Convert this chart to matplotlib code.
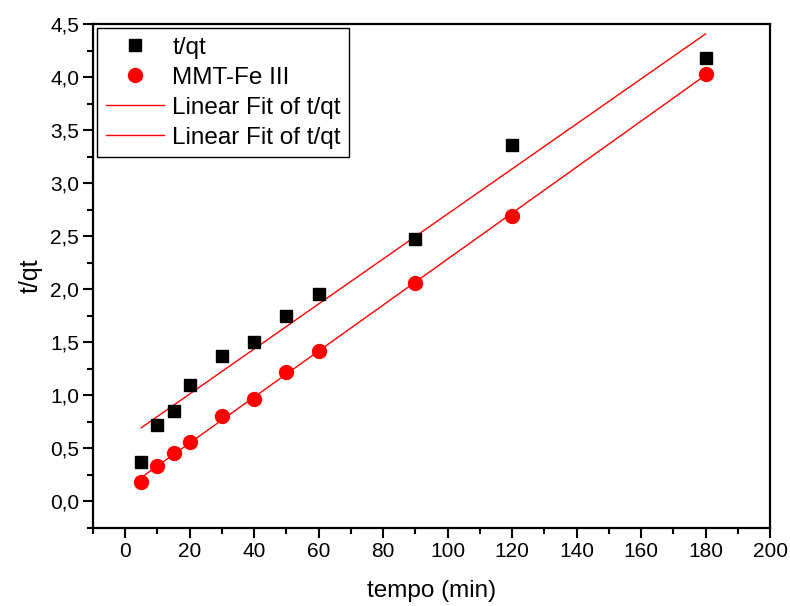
import numpy as np
import matplotlib
matplotlib.use("Agg")
import matplotlib.pyplot as plt
from matplotlib.ticker import MultipleLocator, FuncFormatter

plt.rcParams['font.family'] = ['Liberation Sans', 'DejaVu Sans']

tempo = [5, 10, 15, 20, 30, 40, 50, 60, 90, 120, 180]
t_qt = [0.37, 0.72, 0.85, 1.10, 1.37, 1.50, 1.75, 1.96, 2.47, 3.36, 4.18]
mmt_fe = [0.18, 0.33, 0.46, 0.56, 0.81, 0.97, 1.22, 1.42, 2.06, 2.69, 4.03]
labels = ["t/qt", "MMT-Fe III", "Linear Fit of t/qt", "Linear Fit of t/qt"]

fig = plt.figure(figsize=(7.9, 6.06), dpi=100)
ax = fig.add_axes([0.1177, 0.1287, 0.857, 0.8317])

x = np.array(tempo, dtype=float)
s1 = ax.plot(x, t_qt, 's', color='black', ms=9, label=labels[0], zorder=3)[0]
s2 = ax.plot(x, mmt_fe, 'o', color='red', ms=10, label=labels[1], zorder=3)[0]
p1 = np.polyfit(x, t_qt, 1)
p2 = np.polyfit(x, mmt_fe, 1)
xf = np.array([x.min(), x.max()])
l1 = ax.plot(xf, np.polyval(p1, xf), '-', color='red', lw=1.0, label=labels[2], zorder=2)[0]
l2 = ax.plot(xf, np.polyval(p2, xf), '-', color='red', lw=1.0, label=labels[3], zorder=2)[0]

ax.set_xlim(-10, 200)
ax.set_ylim(-0.25, 4.5)
ax.xaxis.set_major_locator(MultipleLocator(20))
ax.xaxis.set_minor_locator(MultipleLocator(10))
ax.yaxis.set_major_locator(MultipleLocator(0.5))
ax.yaxis.set_minor_locator(MultipleLocator(0.25))
ax.yaxis.set_major_formatter(FuncFormatter(lambda v, p: f"{v:.1f}".replace('.', ',')))
ax.xaxis.set_major_formatter(FuncFormatter(lambda v, p: f"{v:.0f}"))

for sp in ax.spines.values():
    sp.set_linewidth(1.6)
ax.tick_params(which='major', direction='out', length=7, width=1.5, labelsize=15, pad=3)
ax.tick_params(which='minor', direction='out', length=4.5, width=1.5)

ax.set_xlabel("tempo (min)", fontsize=17.5, labelpad=14)
ax.set_ylabel("t/qt", fontsize=18, labelpad=5)

leg = ax.legend(handles=[s1, s2, l1, l2], loc='upper left', fontsize=17.5,
                frameon=True, fancybox=False, edgecolor='black', framealpha=1,
                borderaxespad=0.17, handlelength=2.4, handletextpad=0.35,
                labelspacing=0.33, borderpad=0.35)
leg.get_frame().set_linewidth(1.0)

fig.savefig("out.png", dpi=100)
